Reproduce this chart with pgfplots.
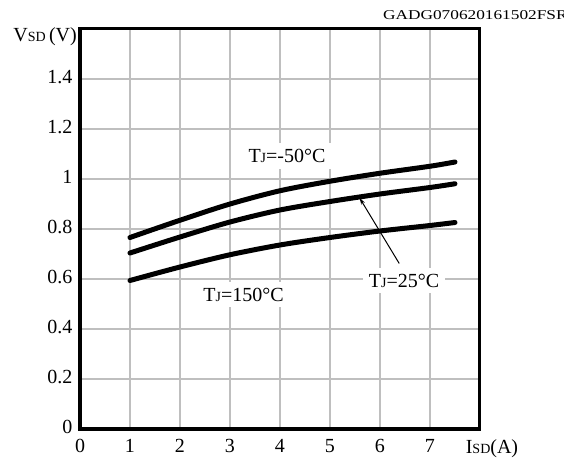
\documentclass[border=0pt]{standalone}
\usepackage{fontspec}
\setmainfont{Liberation Serif}
\usepackage{pgfplots}
\pgfplotsset{compat=1.18}
\usetikzlibrary{arrows.meta}

\newcommand{\lbl}{\fontsize{20bp}{24bp}\selectfont}
\newcommand{\sub}[1]{{\fontsize{14bp}{14bp}\selectfont #1}}

% V_SD vs I_SD, three junction temperatures
\pgfplotstableread{
x     cold    room    hot
1     0.766   0.704   0.594
2     0.835   0.768   0.648
3     0.900   0.828   0.697
4     0.953   0.876   0.736
5     0.991   0.910   0.766
6     1.023   0.940   0.792
7     1.051   0.966   0.814
7.5   1.068   0.981   0.826
}\vsd

\begin{document}
\begin{tikzpicture}
\path[use as bounding box] (0,0) rectangle (564bp,459bp);
\node[anchor=base west, inner sep=0] at (383bp,439bp) {\scalebox{1.28}[1]{\fontsize{13.5bp}{16bp}\selectfont GADG070620161502FSR}};
\begin{axis}[
  at={(80bp,30bp)}, anchor=south west,
  width=400bp, height=400bp, scale only axis,
  xmin=0, xmax=8, ymin=0, ymax=1.6,
  xtick={0,...,7},
  ytick={0,0.2,0.4,0.6,0.8,1,1.2,1.4},
  grid=major,
  major grid style={draw=black!25, line width=1.3bp},
  major tick length=0pt,
  axis line style={line width=3bp},
  tick label style={font=\lbl},
  /pgf/number format/assume math mode=true,
  xticklabel style={yshift=-7bp},
  yticklabel style={xshift=-4bp, yshift=2bp},
  clip=false,
]
\addplot[black, line width=5bp, line cap=round, smooth] table[x=x, y=cold] {\vsd};
\addplot[black, line width=5bp, line cap=round, smooth] table[x=x, y=room] {\vsd};
\addplot[black, line width=5bp, line cap=round, smooth] table[x=x, y=hot] {\vsd};

\node[font=\lbl, fill=white, inner sep=6bp] at (axis cs:4.14,1.092) {T\sub{J}=-50°C};
\node[font=\lbl, fill=white, inner sep=6bp] at (axis cs:6.48,0.594) {T\sub{J}=25°C};
\node[font=\lbl, fill=white, inner sep=6bp] at (axis cs:3.27,0.537) {T\sub{J}=150°C};
\draw[line width=1bp, -{Stealth[length=7bp,width=4bp]}] (axis cs:6.385,0.662) -- (axis cs:5.59,0.925);

\node[font=\lbl, anchor=base east, inner sep=0] at (rel axis cs:0,1) [xshift=-3bp, yshift=-13bp] {V\sub{SD}\,(V)};
\node[font=\lbl, anchor=base, inner sep=0] at (rel axis cs:1,0) [xshift=12bp, yshift=-24bp] {I\sub{SD}(A)};
\end{axis}
\end{tikzpicture}
\end{document}
